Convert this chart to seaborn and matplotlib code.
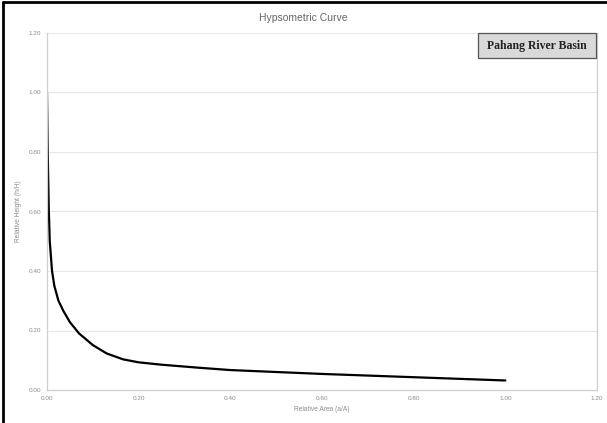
import matplotlib
matplotlib.use("Agg")
import matplotlib.pyplot as plt
import seaborn as sns
import pandas as pd
from matplotlib.lines import Line2D
from matplotlib.patches import Rectangle

relative_area = [0.0, 0.0015, 0.004, 0.006, 0.011, 0.016, 0.025, 0.036, 0.05, 0.07,
                 0.10, 0.13, 0.166, 0.20, 0.25, 0.33, 0.40, 0.60, 0.80, 1.00]
relative_height = [1.0, 0.80, 0.60, 0.50, 0.40, 0.35, 0.30, 0.265, 0.228, 0.19,
                   0.151, 0.123, 0.103, 0.093, 0.085, 0.075, 0.067, 0.054, 0.043, 0.032]
x_ticks = [0.0, 0.2, 0.4, 0.6, 0.8, 1.0, 1.2]
y_ticks = [0.0, 0.2, 0.4, 0.6, 0.8, 1.0, 1.2]

df = pd.DataFrame({"a": relative_area, "h": relative_height})

sns.set_theme(style="white")
plt.rcParams['font.family'] = ['Liberation Sans', 'DejaVu Sans']

fig = plt.figure(figsize=(6.07, 4.23), dpi=100)
ax = fig.add_axes([47/607, 1-390/423, 550/607, 357/423])

sns.lineplot(data=df, x="a", y="h", ax=ax, color="black", linewidth=1.6, sort=False)

ax.set_xlim(0, 1.2)
ax.set_ylim(0, 1.2)
ax.set_xticks(x_ticks)
ax.set_yticks(y_ticks)
ax.set_xticklabels([f"{v:.2f}" for v in x_ticks])
ax.set_yticklabels([f"{v:.2f}" for v in y_ticks])
ax.tick_params(axis="both", labelsize=4.6, labelcolor="#8c8c8c", length=0, pad=4)
ax.yaxis.grid(True, color="#e6e6e6", linewidth=0.8)
ax.xaxis.grid(False)
for side in ["left", "bottom", "right"]:
    ax.spines[side].set_color("#cfcfcf")
    ax.spines[side].set_linewidth(0.9)
ax.spines["top"].set_visible(False)

ax.set_xlabel("Relative Area (a/A)", fontsize=4.8, color="#8c8c8c", labelpad=4)
ax.set_ylabel("Relative Height (h/H)", fontsize=4.8, color="#8c8c8c", labelpad=5)

fig.text(0.5, 1-18/423, "Hypsometric Curve", ha="center", va="center",
         fontsize=7.5, color="#666666")

bx0, bx1 = (478-47)/550, (596-47)/550
by0, by1 = 1-(58-33)/357, 1.0
ax.add_patch(Rectangle((bx0, by0), bx1-bx0, by1-by0, transform=ax.transAxes,
                       facecolor="#d9d9d9", edgecolor="#555555", linewidth=0.9,
                       clip_on=False, zorder=5))
ax.text((bx0+bx1)/2, (by0+by1)/2, "Pahang River Basin", transform=ax.transAxes,
        ha="center", va="center", fontsize=8.5, fontweight="bold",
        family=["Liberation Serif", "DejaVu Serif"], color="#222222", zorder=6)

fig.add_artist(Line2D([3/607, 1], [1-2.5/423, 1-2.5/423], transform=fig.transFigure,
                      color="black", linewidth=2))
fig.add_artist(Line2D([3/607, 3/607], [0, 1-2.5/423], transform=fig.transFigure,
                      color="black", linewidth=2))

fig.savefig("out.png", dpi=100)
